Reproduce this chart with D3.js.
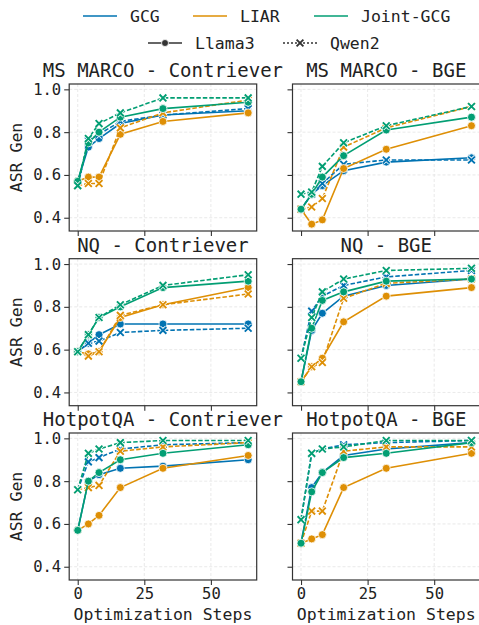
<!DOCTYPE html>
<html>
<head>
<meta charset="utf-8">
<script src="https://cdn.jsdelivr.net/npm/d3@7"></script>
<style>
  body { margin: 0; background: #fff; }
  text { font-family: "DejaVu Sans Mono", monospace; fill: #222; }
</style>
</head>
<body>
<div id="chart"></div>
<script>
// x values shared by every panel
var steps = [0, 4, 8, 16, 32, 64];
var methods = ["GCG", "LIAR", "Joint-GCG"];
var models = ["Llama3", "Qwen2"];
var titles = ["MS MARCO - Contriever", "MS MARCO - BGE", "NQ - Contriever", "NQ - BGE", "HotpotQA - Contriever", "HotpotQA - BGE"];
var xTicks = [0, 25, 50];
var yTicks = [0.4, 0.6, 0.8, 1.0];

// rows: GCG-Llama3, GCG-Qwen2, LIAR-Llama3, LIAR-Qwen2, Joint-Llama3, Joint-Qwen2
var msmarcoContriever = [
  [0.57, 0.73, 0.77, 0.84, 0.88, 0.90],
  [0.55, 0.76, 0.79, 0.85, 0.88, 0.91],
  [0.57, 0.59, 0.59, 0.79, 0.85, 0.89],
  [0.55, 0.56, 0.56, 0.82, 0.89, 0.95],
  [0.57, 0.75, 0.80, 0.87, 0.91, 0.94],
  [0.55, 0.77, 0.84, 0.89, 0.96, 0.96]
];
var msmarcoBge = [
  [0.44, 0.51, 0.55, 0.62, 0.66, 0.68],
  [0.44, 0.51, 0.56, 0.65, 0.67, 0.67],
  [0.44, 0.37, 0.39, 0.63, 0.72, 0.83],
  [0.44, 0.45, 0.49, 0.73, 0.82, 0.92],
  [0.44, 0.51, 0.59, 0.69, 0.81, 0.87],
  [0.51, 0.52, 0.64, 0.75, 0.83, 0.92]
];
var nqContriever = [
  [0.59, 0.63, 0.67, 0.72, 0.72, 0.72],
  [0.59, 0.63, 0.64, 0.68, 0.69, 0.70],
  [0.59, 0.58, 0.59, 0.75, 0.81, 0.89],
  [0.59, 0.57, 0.59, 0.76, 0.81, 0.86],
  [0.59, 0.67, 0.75, 0.80, 0.89, 0.92],
  [0.59, 0.67, 0.75, 0.81, 0.90, 0.95]
];
var nqBge = [
  [0.45, 0.69, 0.77, 0.85, 0.90, 0.93],
  [0.56, 0.78, 0.85, 0.90, 0.94, 0.97],
  [0.45, 0.52, 0.56, 0.73, 0.85, 0.89],
  [0.45, 0.52, 0.54, 0.84, 0.91, 0.93],
  [0.45, 0.70, 0.83, 0.87, 0.92, 0.93],
  [0.56, 0.75, 0.87, 0.93, 0.97, 0.98]
];
var hotpotContriever = [
  [0.57, 0.80, 0.83, 0.86, 0.87, 0.90],
  [0.76, 0.89, 0.91, 0.95, 0.97, 0.98],
  [0.57, 0.60, 0.64, 0.77, 0.86, 0.92],
  [0.76, 0.77, 0.78, 0.94, 0.96, 0.98],
  [0.57, 0.80, 0.84, 0.90, 0.93, 0.97],
  [0.76, 0.93, 0.95, 0.98, 0.99, 0.99]
];
var hotpotBge = [
  [0.51, 0.77, 0.84, 0.92, 0.95, 0.98],
  [0.62, 0.93, 0.95, 0.97, 0.98, 0.99],
  [0.51, 0.53, 0.55, 0.77, 0.86, 0.93],
  [0.51, 0.66, 0.66, 0.94, 0.96, 0.96],
  [0.51, 0.75, 0.84, 0.91, 0.93, 0.98],
  [0.62, 0.93, 0.95, 0.96, 0.99, 0.99]
];
var panelData = [msmarcoContriever, msmarcoBge, nqContriever, nqBge, hotpotContriever, hotpotBge];

var colors = {"GCG": "#0173b2", "LIAR": "#de8f05", "Joint-GCG": "#029e73"};

var svg = d3.select("#chart").append("svg")
    .attr("width", 479)
    .attr("height", 625);

var colLeft = [69.2, 292.5];
var rowTop = [84, 258.7, 433];
var pw = 187.5, ph = 147;

var x = d3.scaleLinear().domain([-3.2, 67.2]).range([0, pw]);
var y = d3.scaleLinear().domain([0.338, 1.025]).range([ph, 0]);

var line = d3.line()
    .x(function(d, i) { return x(steps[i]); })
    .y(function(d) { return y(d); });

var xMark = "M-3.4,-3.4L3.4,3.4M-3.4,3.4L3.4,-3.4";

function drawX(sel, c) {
  sel.append("path").attr("d", xMark).attr("fill", "none")
    .attr("stroke", "#fff").attr("stroke-width", 3.4);
  sel.append("path").attr("d", xMark).attr("fill", "none")
    .attr("stroke", c).attr("stroke-width", 1.9);
}

panelData.forEach(function(rows, p) {
  var col = p % 2, row = Math.floor(p / 2);
  var g = svg.append("g").attr("transform", "translate(" + colLeft[col] + "," + rowTop[row] + ")");

  // grid
  g.selectAll(".gx").data(xTicks).enter().append("line")
    .attr("x1", function(d) { return x(d); }).attr("x2", function(d) { return x(d); })
    .attr("y1", 0).attr("y2", ph)
    .attr("stroke", "#e3e3e3").attr("stroke-width", 0.8).attr("stroke-dasharray", "3,2");
  g.selectAll(".gy").data(yTicks).enter().append("line")
    .attr("y1", function(d) { return y(d); }).attr("y2", function(d) { return y(d); })
    .attr("x1", 0).attr("x2", pw)
    .attr("stroke", "#e3e3e3").attr("stroke-width", 0.8).attr("stroke-dasharray", "3,2");

  // series
  rows.forEach(function(vals, s) {
    var method = methods[Math.floor(s / 2)];
    var model = models[s % 2];
    var c = colors[method];
    g.append("path")
      .attr("d", line(vals))
      .attr("fill", "none")
      .attr("stroke", c)
      .attr("stroke-width", 1.6)
      .attr("stroke-dasharray", model === "Qwen2" ? "4.5,2" : null);
    if (model === "Llama3") {
      g.selectAll(null).data(vals).enter().append("circle")
        .attr("cx", function(d, i) { return x(steps[i]); })
        .attr("cy", function(d) { return y(d); })
        .attr("r", 4)
        .attr("fill", c).attr("stroke", "#fff").attr("stroke-width", 0.8);
    } else {
      g.selectAll(null).data(vals).enter().append("g")
        .attr("transform", function(d, i) { return "translate(" + x(steps[i]) + "," + y(d) + ")"; })
        .each(function() { drawX(d3.select(this), c); });
    }
  });

  // frame
  g.append("rect").attr("width", pw).attr("height", ph)
    .attr("fill", "none").attr("stroke", "#333").attr("stroke-width", 1.2);

  // axes
  var xAxis = d3.axisBottom(x).tickValues(xTicks).tickSize(5).tickPadding(3);
  if (row < 2) xAxis.tickFormat("");
  var xa = g.append("g").attr("transform", "translate(0," + ph + ")").call(xAxis);
  var yAxis = d3.axisLeft(y).tickValues(yTicks).tickSize(5).tickPadding(3).tickFormat(d3.format(".1f"));
  if (col === 1) yAxis.tickFormat("");
  var ya = g.append("g").call(yAxis);
  [xa, ya].forEach(function(a) {
    a.select(".domain").remove();
    a.selectAll(".tick line").attr("stroke", "#333").attr("stroke-width", 1.1);
    a.selectAll(".tick text").attr("fill", "#222").style("font-family", "DejaVu Sans Mono").style("font-size", "15.5px");
  });

  g.append("text")
    .attr("x", pw / 2).attr("y", -7)
    .attr("text-anchor", "middle")
    .style("font-size", "19px")
    .text(titles[p]);

  if (col === 0) {
    g.append("text")
      .attr("transform", "translate(" + (17 - colLeft[0]) + "," + (ph / 2) + ") rotate(-90)")
      .attr("text-anchor", "middle")
      .attr("dominant-baseline", "central")
      .style("font-size", "16.5px")
      .text("ASR Gen");
  }
  if (row === 2) {
    g.append("text")
      .attr("x", pw / 2).attr("y", ph + 39.5)
      .attr("text-anchor", "middle")
      .style("font-size", "16.5px")
      .text("Optimization Steps");
  }
});

// legend row 1: methods
var legX = [83, 193, 314];
methods.forEach(function(m, i) {
  svg.append("line")
    .attr("x1", legX[i]).attr("x2", legX[i] + 34)
    .attr("y1", 16).attr("y2", 16)
    .attr("stroke", colors[m]).attr("stroke-width", 1.6);
  svg.append("text")
    .attr("x", legX[i] + 47).attr("y", 21.5)
    .style("font-size", "16.5px")
    .text(m);
});

// legend row 2: models
var legX2 = [148, 283];
models.forEach(function(m, i) {
  var cx = legX2[i] + 17;
  svg.append("line")
    .attr("x1", legX2[i]).attr("x2", legX2[i] + 34)
    .attr("y1", 43).attr("y2", 43)
    .attr("stroke", "#333").attr("stroke-width", 1.4)
    .attr("stroke-dasharray", m === "Qwen2" ? "2,2" : null);
  if (m === "Llama3") {
    svg.append("circle").attr("cx", cx).attr("cy", 43).attr("r", 3.5)
      .attr("fill", "#333").attr("stroke", "#fff").attr("stroke-width", 0.8);
  } else {
    drawX(svg.append("g").attr("transform", "translate(" + cx + ",43)"), "#333");
  }
  svg.append("text")
    .attr("x", legX2[i] + 47).attr("y", 48.5)
    .style("font-size", "16.5px")
    .text(m);
});
</script>
</body>
</html>
